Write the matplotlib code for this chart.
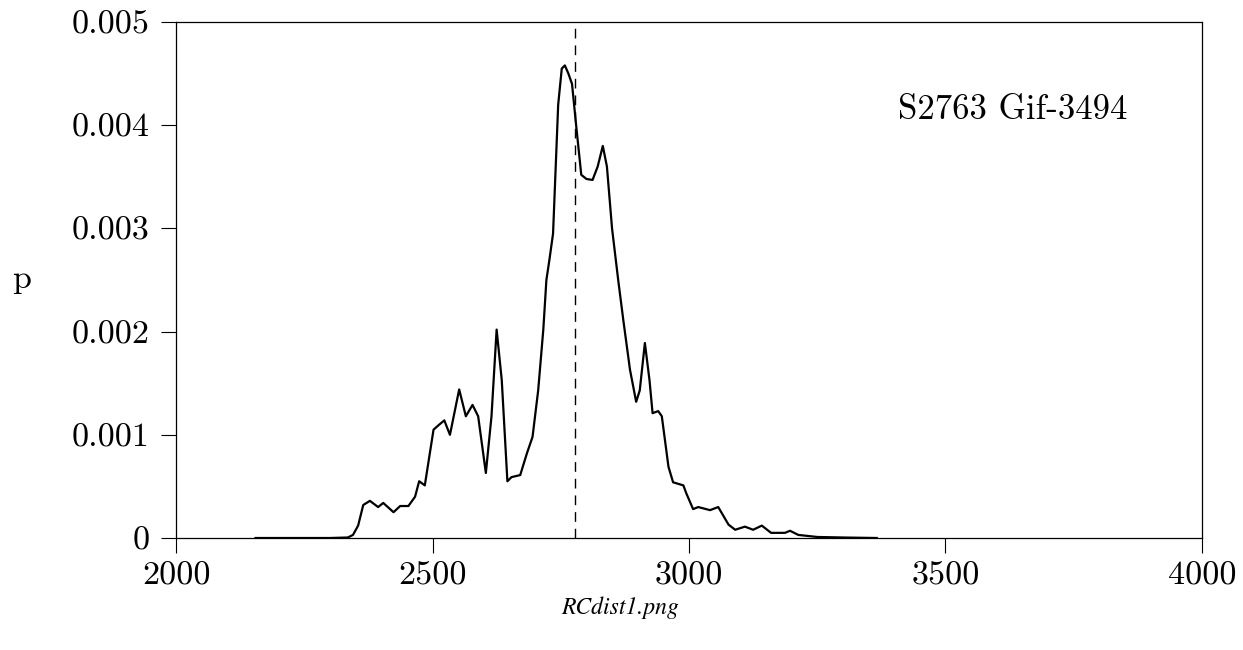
import numpy as np
import matplotlib
matplotlib.use("Agg")
import matplotlib.pyplot as plt

plt.rcParams["font.family"] = "cmr10"
plt.rcParams["mathtext.fontset"] = "cm"
plt.rcParams["axes.unicode_minus"] = False

# calibrated age (BP) vs probability density
age = [2155, 2300, 2335, 2345, 2355, 2365, 2378, 2394, 2404, 2424, 2437, 2453,
       2466, 2474, 2485, 2502, 2511, 2523, 2534, 2552, 2565, 2578, 2589, 2604,
       2615, 2625, 2635, 2646, 2654, 2671, 2684, 2695, 2706, 2716, 2722, 2728,
       2735, 2745, 2752, 2758, 2765, 2772, 2780, 2790, 2800, 2812, 2822, 2832,
       2840, 2850, 2862, 2872, 2885, 2897, 2904, 2914, 2923, 2929, 2940, 2947,
       2960, 2969, 2989, 2995, 3008, 3018, 3041, 3057, 3077, 3090, 3109, 3125,
       3142, 3160, 3187, 3197, 3213, 3250, 3300, 3366]
prob = [0.0, 0.0, 0.000005, 0.00003, 0.00012, 0.00032, 0.00036, 0.00030, 0.00034,
        0.00025, 0.00031, 0.00031, 0.00040, 0.00055, 0.00051, 0.00105, 0.00109,
        0.00114, 0.00100, 0.00144, 0.00118, 0.00129, 0.00118, 0.00063, 0.00118,
        0.00202, 0.00153, 0.00055, 0.00059, 0.00061, 0.00082, 0.00098, 0.00143,
        0.00202, 0.00250, 0.00270, 0.00295, 0.00420, 0.00455, 0.00458, 0.00450,
        0.00440, 0.00400, 0.00352, 0.00348, 0.00347, 0.00360, 0.00380, 0.00360,
        0.00300, 0.00250, 0.00211, 0.00163, 0.00132, 0.00143, 0.00189, 0.00153,
        0.00121, 0.00123, 0.00118, 0.00069, 0.00054, 0.00051, 0.00043, 0.00028,
        0.00030, 0.00027, 0.00030, 0.00013, 0.00008, 0.00011, 0.00008, 0.00012,
        0.00005, 0.00005, 0.00007, 0.00003, 0.00001, 0.000005, 0.0]

median_age = 2778
label = "S2763 Gif-3494"

xticks = [2000, 2500, 3000, 3500, 4000]
yticks = [0, 0.001, 0.002, 0.003, 0.004, 0.005]
ytick_labels = ["0", "0.001", "0.002", "0.003", "0.004", "0.005"]

fig = plt.figure(figsize=(12.43, 6.5), dpi=100)
ax = fig.add_axes([0.1416, 0.1723, 0.8254, 0.7937])

ax.plot(age, prob, color="black", lw=1.6)
ax.axvline(median_age, color="black", lw=1.0, dashes=(7, 5))

ax.set_xlim(2000, 4000)
ax.set_ylim(0, 0.005)
ax.set_xticks(xticks)
ax.set_xticklabels([str(t) for t in xticks])
ax.set_yticks(yticks)
ax.set_yticklabels(ytick_labels)
ax.tick_params(direction="out", length=11, width=0.8, labelsize=24.5)
ax.tick_params(axis="x", pad=6)
ax.tick_params(axis="y", pad=8)
for s in ax.spines.values():
    s.set_linewidth(0.9)

ax.text(0.704, 0.83, label, transform=ax.transAxes, fontsize=25,
        ha="left", va="center")
fig.text(0.01, 0.57, "p", fontsize=24.5, ha="left", va="center")
fig.text(0.499, 0.065, "RCdist1.png", fontsize=17, ha="center", va="center",
         family="STIXGeneral", style="italic")

fig.savefig("out.png", dpi=100)
